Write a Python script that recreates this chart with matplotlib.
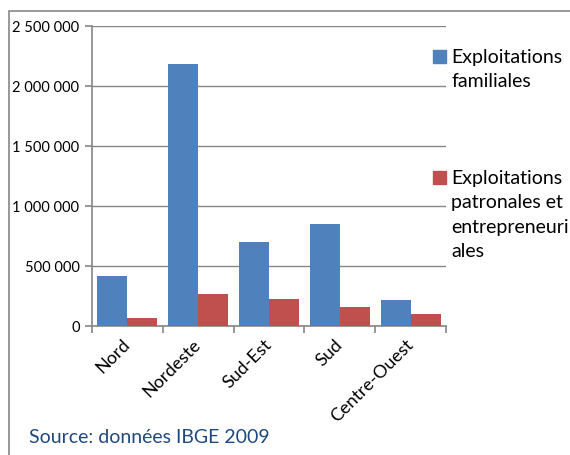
import matplotlib
matplotlib.use("Agg")
import matplotlib.pyplot as plt
from matplotlib.patches import Rectangle
from matplotlib.ticker import FuncFormatter, MultipleLocator
import numpy as np

categories = ["Nord", "Nordeste", "Sud-Est", "Sud", "Centre-Ouest"]
familiales = [412666, 2187295, 699978, 849997, 217531]
patronales = [62674, 266711, 222071, 156184, 99480]
series_labels = ["Exploitations\nfamiliales",
                 "Exploitations\npatronales et\nentrepreneuri\nales"]
colors = ["#4F81BD", "#C0504D"]
source_text = "Source: données IBGE 2009"

plt.rcParams['font.family'] = ['Lato', 'DejaVu Sans']

W, H = 570, 456
fig = plt.figure(figsize=(W / 100, H / 100), dpi=100)
ax = fig.add_axes([92 / W, 1 - 327 / H, (446 - 92) / W, (327 - 27) / H])

x = np.arange(len(categories))
bw = 0.424
ax.bar(x - bw / 2, familiales, width=bw, color=colors[0], edgecolor='none', zorder=3)
ax.bar(x + bw / 2, patronales, width=bw, color=colors[1], edgecolor='none', zorder=3)

ax.set_xlim(-0.5, len(categories) - 0.5)
ax.set_ylim(0, 2500000)
ax.yaxis.set_major_locator(MultipleLocator(500000))
ax.yaxis.set_major_formatter(FuncFormatter(lambda v, p: f"{int(v):,}".replace(",", " ")))
ax.grid(axis='y', color='#868686', linewidth=1.0, zorder=0)
ax.set_axisbelow(True)

for s in ['top', 'right']:
    ax.spines[s].set_visible(False)
for s in ['left', 'bottom']:
    ax.spines[s].set_color('#868686')
    ax.spines[s].set_linewidth(1.2)

ax.set_xticks(x)
ax.set_xticklabels(categories, rotation=45, ha='right', va='center',
                   rotation_mode='anchor', fontsize=13)
ax.tick_params(axis='x', length=0, pad=11)
ax.set_xticks(np.arange(len(categories) + 1) - 0.5, minor=True)
ax.tick_params(axis='x', which='minor', length=5, color='#868686', width=1.2)
ax.tick_params(axis='y', length=5, color='#868686', width=1.2, pad=4, labelsize=10.5)

# legend drawn manually
leg_items = [(51, series_labels[0], colors[0]), (172, series_labels[1], colors[1])]
for ytop, lab, col in leg_items:
    fig.patches.append(Rectangle((433 / W, 1 - (ytop + 13) / H), 13 / W, 13 / H,
                                 transform=fig.transFigure, color=col, figure=fig))
    fig.text(451 / W, 1 - (ytop - 2) / H, lab, fontsize=14, va='top', ha='left',
             linespacing=1.52)

fig.text(29 / W, 1 - 438 / H, source_text, fontsize=14, color='#1F497D',
         va='center', ha='left')

# chart border
fig.patches.append(Rectangle((9 / W, -0.1), 1.2, 1 - 12 / H + 0.1,
                             transform=fig.transFigure, fill=False,
                             edgecolor='#868686', linewidth=1.2, figure=fig))

fig.savefig("out.png", dpi=100, facecolor='white')
